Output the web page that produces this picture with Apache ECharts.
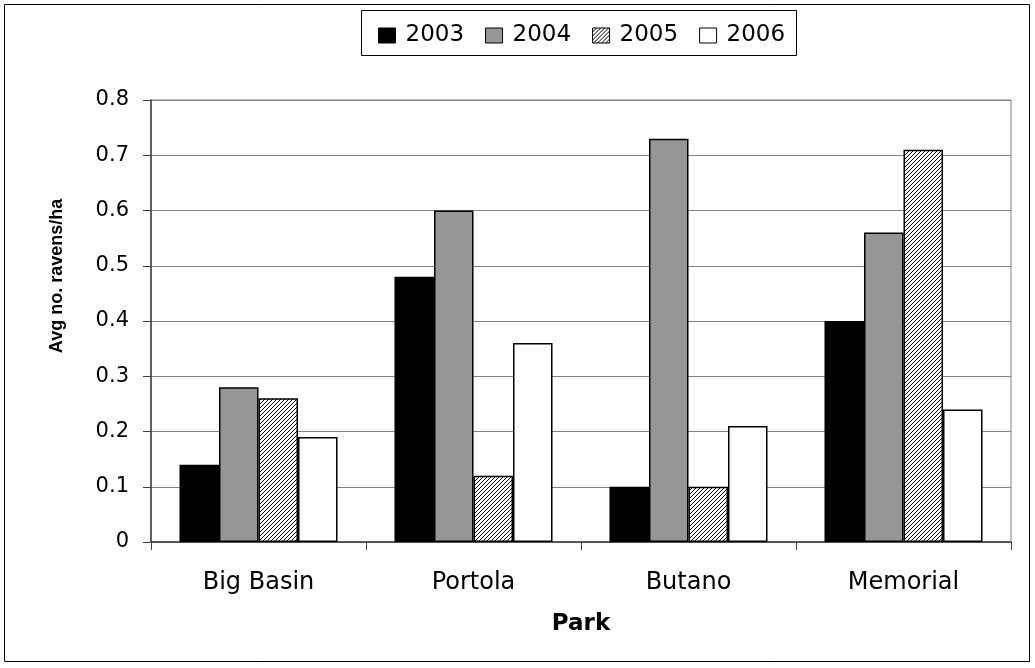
<!DOCTYPE html>
<html>
<head>
<meta charset="utf-8">
<script src="https://cdn.jsdelivr.net/npm/echarts@6/dist/echarts.min.js"></script>
<style>
  html, body { margin: 0; padding: 0; background: #fff; }
  #chart { width: 1035px; height: 668px; }
</style>
</head>
<body>
<div id="chart"></div>
<script>
const parks = ['Big Basin', 'Portola', 'Butano', 'Memorial']
const years = ['2003', '2004', '2005', '2006']
const v2003 = [0.14, 0.48, 0.10, 0.40]
const v2004 = [0.28, 0.60, 0.73, 0.56]
const v2005 = [0.26, 0.12, 0.10, 0.71]
const v2006 = [0.19, 0.36, 0.21, 0.24]

// fine diagonal hatch used for 2005
function hatch() {
    const n = 4
    const c = document.createElement('canvas')
    c.width = n
    c.height = n
    const ctx = c.getContext('2d')
    ctx.fillStyle = '#fff'
    ctx.fillRect(0, 0, n, n)
    ctx.strokeStyle = '#000'
    ctx.lineWidth = 1
    ctx.beginPath()
    ctx.moveTo(-1, n + 1); ctx.lineTo(n + 1, -1)
    ctx.moveTo(-1, 1); ctx.lineTo(1, -1)
    ctx.moveTo(n - 1, n + 1); ctx.lineTo(n + 1, n - 1)
    ctx.stroke()
    return c
}

const fills = ['#000000', '#969696', { image: hatch(), repeat: 'repeat' }, '#ffffff']
const values = [v2003, v2004, v2005, v2006]
const wide = 'DejaVu Sans, Verdana, sans-serif'

const chart = echarts.init(document.getElementById('chart'))

chart.setOption({
    animation: false,
    textStyle: { fontFamily: wide, color: '#000' },
    graphic: [
        { type: 'rect', shape: { x: 4.5, y: 4.5, width: 1025, height: 657 },
          style: { fill: 'none', stroke: '#000', lineWidth: 1 } },
        { type: 'rect', shape: { x: 361.5, y: 10.5, width: 435, height: 45 },
          style: { fill: 'none', stroke: '#000', lineWidth: 1 } },
        { type: 'text', x: 57, y: 276, rotation: Math.PI / 2,
          style: { text: 'Avg no. ravens/ha', fontFamily: 'Liberation Sans, Arial, sans-serif',
                   fontSize: 18, fontWeight: 'bold', fill: '#000', align: 'center', verticalAlign: 'middle' } }
    ],
    legend: {
        top: 19,
        left: 373,
        itemWidth: 17,
        itemHeight: 15,
        itemGap: 21,
        textStyle: { fontSize: 23, fontFamily: wide, color: '#000', padding: [0, 0, 0, 5] },
        itemStyle: { borderColor: '#000', borderWidth: 1 },
        data: years.map(y => ({ name: y, icon: 'rect' }))
    },
    grid: {
        left: 151, right: 24, top: 100, bottom: 126,
        show: true, borderColor: '#808080', borderWidth: 1
    },
    xAxis: {
        type: 'category',
        data: parks,
        name: 'Park',
        nameLocation: 'middle',
        nameGap: 71,
        nameTextStyle: { fontSize: 23, fontWeight: 'bold', fontFamily: wide, color: '#000' },
        axisLine: { lineStyle: { color: '#404040', width: 1.5 } },
        axisTick: { show: true, alignWithLabel: false, length: 8, lineStyle: { color: '#404040' } },
        axisLabel: { fontSize: 24, fontFamily: wide, color: '#000', margin: 29 }
    },
    yAxis: {
        type: 'value',
        min: 0,
        max: 0.8,
        interval: 0.1,
        axisLine: { show: true, lineStyle: { color: '#404040', width: 1.5 } },
        axisTick: { show: true, inside: false, length: 8, lineStyle: { color: '#404040' } },
        axisLabel: { fontSize: 21, fontFamily: wide, color: '#000', margin: 22,
                     formatter: v => String(+v.toFixed(1)) },
        splitLine: { lineStyle: { color: '#808080', width: 1.2 } }
    },
    series: years.map((y, i) => ({
        name: y,
        type: 'bar',
        data: values[i],
        barGap: '0%',
        barCategoryGap: '26.5%',
        itemStyle: { color: fills[i], borderColor: '#000', borderWidth: 1.5 }
    }))
})
</script>
</body>
</html>
